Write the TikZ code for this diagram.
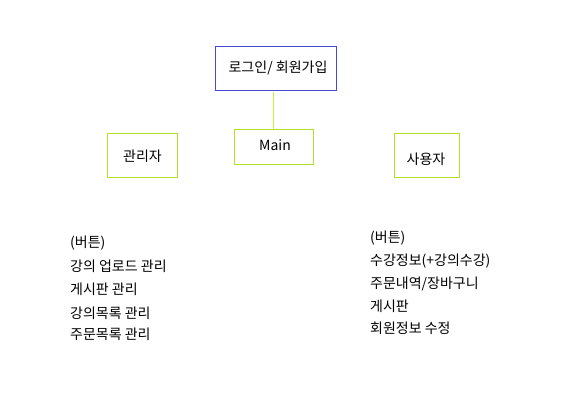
\documentclass[tikz,border=0pt]{standalone}
\usepackage{fontspec}
\setmainfont{Noto Sans CJK KR}
\definecolor{boxblue}{RGB}{72,72,216}
\definecolor{boxgreen}{RGB}{176,224,40}
\definecolor{linegreen}{RGB}{200,240,60}
\begin{document}
\begin{tikzpicture}[x=1pt,y=-1pt,
  every node/.style={font=\fontsize{14}{16}\selectfont, inner sep=0pt},
  bluebox/.style={draw=boxblue, line width=1pt, minimum width=121pt, minimum height=44pt},
  greenbox/.style={draw=boxgreen, line width=1pt},
  item/.style={anchor=west, text height=10pt, text depth=3pt}]
\useasboundingbox (0,0) rectangle (570,407);
\fill[white] (0,0) rectangle (570,407);
\node[bluebox] (login) at (275.5,68) {};
\node at (278,68) {로그인/ 회원가입};
\node[greenbox, minimum width=79pt, minimum height=35pt] (main) at (273.5,146.5) {};
\node at (275,145) {Main};
\node[greenbox, minimum width=70pt, minimum height=44pt] (admin) at (142,155) {};
\node at (142.5,156) {관리자};
\node[greenbox, minimum width=65pt, minimum height=44pt] (user) at (426.5,155) {};
\node at (426,159) {사용자};
\coordinate (ltop) at (273.3,92);
\draw[linegreen, line width=1pt] (ltop) -- (ltop |- main.north);
\node[item] (a1) at (70,244) {(버튼)};
\node[item] (a2) at (70,267.5) {강의 업로드 관리};
\node[item] (a3) at (70,291) {게시판 관리};
\node[item] (a4) at (70,314.5) {강의목록 관리};
\node[item] (a5) at (70,336) {주문목록 관리};
\node[item] (b1) at (370,239) {(버튼)};
\node[item] (b2) at (370,262) {수강정보(+강의수강)};
\node[item] (b3) at (370,285) {주문내역/장바구니};
\node[item] (b4) at (370,308) {게시판};
\node[item] (b5) at (370,330) {회원정보 수정};
\end{tikzpicture}
\end{document}
